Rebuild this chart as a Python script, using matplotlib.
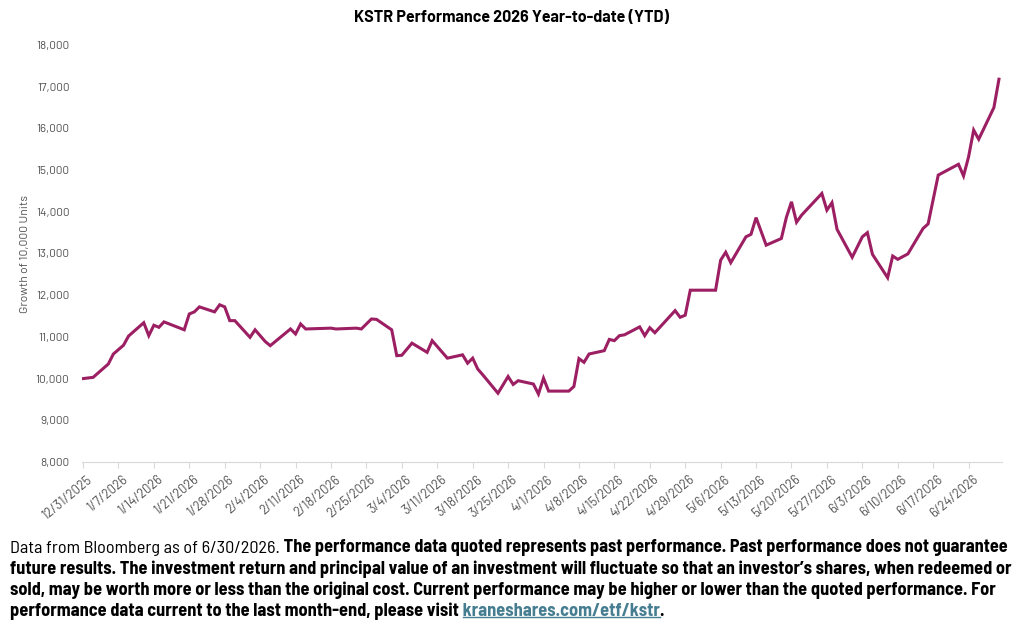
import matplotlib
matplotlib.use("Agg")
import matplotlib.pyplot as plt
import matplotlib.dates as mdates
from matplotlib.ticker import FuncFormatter
from matplotlib.lines import Line2D
from matplotlib.transforms import ScaledTranslation
import pandas as pd

# KSTR growth of 10,000 units, vertices
dates = ['2025-12-31', '2026-01-02', '2026-01-05', '2026-01-06', '2026-01-08', '2026-01-09',
         '2026-01-12', '2026-01-13', '2026-01-14', '2026-01-15', '2026-01-16', '2026-01-20',
         '2026-01-21', '2026-01-22', '2026-01-23', '2026-01-26', '2026-01-27', '2026-01-28',
         '2026-01-29', '2026-01-30', '2026-02-02', '2026-02-03', '2026-02-05', '2026-02-06',
         '2026-02-10', '2026-02-11', '2026-02-12', '2026-02-13', '2026-02-18', '2026-02-19',
         '2026-02-23', '2026-02-24', '2026-02-26', '2026-02-27', '2026-03-02', '2026-03-03',
         '2026-03-04', '2026-03-06', '2026-03-09', '2026-03-10', '2026-03-13', '2026-03-16',
         '2026-03-17', '2026-03-18', '2026-03-19', '2026-03-20', '2026-03-23', '2026-03-25',
         '2026-03-26', '2026-03-27', '2026-03-30', '2026-03-31', '2026-04-01', '2026-04-02',
         '2026-04-06', '2026-04-07', '2026-04-08', '2026-04-09', '2026-04-10', '2026-04-13',
         '2026-04-14', '2026-04-15', '2026-04-16', '2026-04-17', '2026-04-20', '2026-04-21',
         '2026-04-22', '2026-04-23', '2026-04-27', '2026-04-28', '2026-04-29', '2026-04-30',
         '2026-05-05', '2026-05-06', '2026-05-07', '2026-05-08', '2026-05-11', '2026-05-12',
         '2026-05-13', '2026-05-15', '2026-05-18', '2026-05-19', '2026-05-20', '2026-05-21',
         '2026-05-22', '2026-05-26', '2026-05-27', '2026-05-28', '2026-05-29', '2026-06-01',
         '2026-06-03', '2026-06-04', '2026-06-05', '2026-06-08', '2026-06-09', '2026-06-10',
         '2026-06-12', '2026-06-15', '2026-06-16', '2026-06-18', '2026-06-22', '2026-06-23',
         '2026-06-24', '2026-06-25', '2026-06-26', '2026-06-29', '2026-06-30']
values = [10000, 10030, 10350, 10590, 10800, 11020,
          11340, 11030, 11280, 11230, 11360, 11170,
          11550, 11600, 11720, 11600, 11770, 11720,
          11390, 11390, 10990, 11170, 10890, 10790,
          11190, 11070, 11310, 11190, 11210, 11190,
          11210, 11190, 11430, 11420, 11170, 10550,
          10560, 10850, 10630, 10910, 10490, 10570,
          10370, 10490, 10230, 10090, 9650, 10050,
          9860, 9950, 9870, 9630, 10010, 9700,
          9700, 9810, 10480, 10390, 10590, 10670,
          10940, 10910, 11030, 11050, 11240, 11030,
          11220, 11100, 11630, 11470, 11520, 12120,
          12120, 12840, 13030, 12780, 13400, 13460,
          13860, 13200, 13360, 13870, 14240, 13750,
          13920, 14440, 14040, 14220, 13580, 12910,
          13400, 13500, 12980, 12420, 12940, 12860,
          12990, 13600, 13710, 14880, 15140, 14860,
          15320, 15960, 15740, 16500, 17180]

tick_dates = pd.date_range('2025-12-31', '2026-06-24', freq='7D')
y_ticks = list(range(8000, 18001, 1000))

title = "KSTR Performance 2026 Year-to-date (YTD)"
y_label = "Growth of 10,000 Units"

line_color = '#9c1f63'
grey = '#505050'
link_color = '#467d91'
cond = ['Barlow Semi Condensed', 'DejaVu Sans']
wide = ['Barlow', 'DejaVu Sans']

x = pd.to_datetime(dates)

fig = plt.figure(figsize=(10.24, 6.28), dpi=100)
ax = fig.add_axes([82 / 1024, 1 - 462 / 628, 920 / 1024, 417 / 628])

ax.plot(x, values, color=line_color, lw=2.2, solid_joinstyle='miter')

x0 = mdates.date2num(pd.Timestamp('2025-12-31')) - 0.2
ax.set_xlim(x0, x0 + 181.8)
ax.set_ylim(8000, 18000)
ax.set_yticks(y_ticks)
ax.yaxis.set_major_formatter(FuncFormatter(lambda v, p: f"{int(v):,}"))
ax.set_xticks(tick_dates)
ax.set_xticklabels([f"{d.month}/{d.day}/{d.year}" for d in tick_dates])

for s in ['top', 'right', 'left']:
    ax.spines[s].set_visible(False)
ax.spines['bottom'].set_color('#d9d9d9')
ax.tick_params(axis='y', length=0, pad=9, labelsize=9, labelcolor=grey)
ax.tick_params(axis='x', length=4, color='#d9d9d9', pad=4, labelsize=9, labelcolor=grey)

ylab = fig.text(25 / 1024, 1 - 254 / 628, y_label, rotation=90, ha='center', va='center',
                fontsize=8.5, color=grey, family=wide)
ttl = fig.text(0.5, 1 - 18 / 628, title, ha='center', va='center', fontsize=11.5,
               fontweight='bold', color='black', family=wide)

# footer disclaimer, pieces chained one after another
fs = 11
lines_y = [548, 569, 590, 611]
t1 = fig.text(10 / 1024, 1 - lines_y[0] / 628, "Data from Bloomberg as of 6/30/2026.",
              ha='left', va='center', fontsize=fs, family=cond, color='black')
t1b = ax.annotate(" The performance data quoted represents past performance. Past performance does not guarantee",
                  xy=(1, 0), xycoords=t1, ha='left', va='bottom', fontsize=fs, family=cond,
                  fontweight='bold', annotation_clip=False)
t2 = fig.text(10 / 1024, 1 - lines_y[1] / 628,
              "future results. The investment return and principal value of an investment will fluctuate so that an investor\u2019s shares, when redeemed or",
              ha='left', va='center', fontsize=fs, family=cond, fontweight='bold')
t3 = fig.text(10 / 1024, 1 - lines_y[2] / 628,
              "sold, may be worth more or less than the original cost. Current performance may be higher or lower than the quoted performance. For",
              ha='left', va='center', fontsize=fs, family=cond, fontweight='bold')
t4 = fig.text(10 / 1024, 1 - lines_y[3] / 628,
              "performance data current to the last month-end, please visit",
              ha='left', va='center', fontsize=fs, family=cond, fontweight='bold')
link = ax.annotate(" kraneshares.com/etf/kstr", xy=(1, 0), xycoords=t4, ha='left', va='bottom',
                   fontsize=fs, family=cond, fontweight='bold', color=link_color,
                   annotation_clip=False)
dot = ax.annotate(".", xy=(1, 0), xycoords=link, ha='left', va='bottom', fontsize=fs,
                  family=cond, fontweight='bold', annotation_clip=False)
bold_footer = [t2, t3, t4, link, dot]

# scale font sizes so text widths match the reference
fig.canvas.draw()
r = fig.canvas.get_renderer()

k = 998 / t2.get_window_extent(r).width
for t in bold_footer:
    t.set_fontsize(t.get_fontsize() * k)
t1.set_fontsize(t1.get_fontsize() * 270 / t1.get_window_extent(r).width)
t1b.set_fontsize(t1b.get_fontsize() * 725 / t1b.get_window_extent(r).width)

ttl.set_fontsize(ttl.get_fontsize() * 315 / ttl.get_window_extent(r).width)
ylab.set_fontsize(ylab.get_fontsize() * 118 / ylab.get_window_extent(r).height)

for lab in ax.get_yticklabels():
    lab.set_family(wide)
for lab in ax.get_xticklabels():
    lab.set_family(wide)
    lab.set_rotation(40)
    lab.set_ha('right')
    lab.set_va('top')
    lab.set_rotation_mode('anchor')
fig.canvas.draw()
w = ax.get_yticklabels()[-1].get_window_extent(r).width
ax.tick_params(axis='y', labelsize=9 * 33 / w)
w = ax.get_xticklabels()[0].get_window_extent(r).width
ax.tick_params(axis='x', labelsize=9 * 55 / w)

shift = ScaledTranslation(2.5 / 72, 0, fig.dpi_scale_trans)
for lab in ax.get_xticklabels():
    lab.set_transform(lab.get_transform() + shift)

# underline the link
fig.canvas.draw()
r = fig.canvas.get_renderer()
bb = link.get_window_extent(r)
plain = fig.text(0, 0, "kraneshares.com/etf/kstr", fontsize=link.get_fontsize(), family=cond,
                 fontweight='bold', alpha=0)
lead = bb.width - plain.get_window_extent(r).width
plain.remove()
uy = bb.y0 + 2.5
fig.add_artist(Line2D([(bb.x0 + lead) / fig.bbox.width, bb.x1 / fig.bbox.width],
                      [uy / fig.bbox.height, uy / fig.bbox.height],
                      color=link_color, lw=1.0, transform=fig.transFigure))

fig.savefig('out.png', dpi=100)
